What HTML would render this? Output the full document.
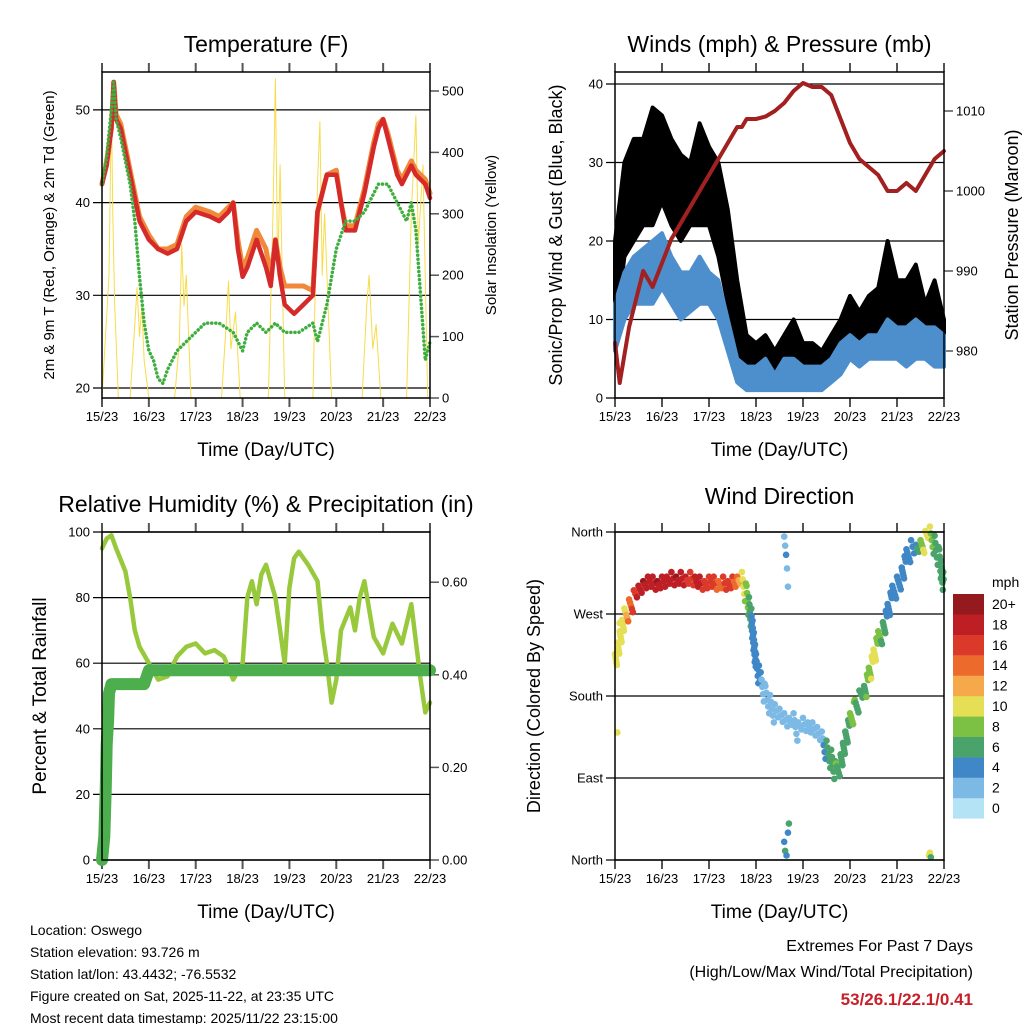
<!DOCTYPE html>
<html><head><meta charset="utf-8">
<style>
body{margin:0;background:#fff;}
svg{display:block;font-family:"Liberation Sans",sans-serif;}
</style></head>
<body>
<svg id="s" width="1024" height="1024" viewBox="0 0 1024 1024"></svg>
<script>
// ---- Temperature data (t in days since 15/23) ----
const tempT=[0,0.1,0.2,0.25,0.3,0.4,0.6,0.8,1.0,1.2,1.4,1.6,1.8,2.0,2.3,2.5,2.7,2.8,2.9,3.0,3.1,3.3,3.5,3.6,3.7,3.8,3.9,4.1,4.3,4.5,4.6,4.8,5.0,5.1,5.2,5.4,5.6,5.8,5.9,6.0,6.1,6.3,6.4,6.6,6.7,6.9,7.0];
const tempRed=[42,44,48,53,49,48,43,38,36,35,34.5,35,38,39,38.5,38,39,40,35,32,33,36,33,31,36,32,29,28,29,30,39,43,43,40,37,37,41,46,48,49,47,43,42,44,43,42,40.5];
const tempOrange=[42,44.5,48,53,49.5,48.5,43.5,38.5,36.5,35,35,35.5,38.5,39.5,39,38.5,39.5,40,36,33,34,37,35,32,36,33,31,31,31,30.5,39,43,43.5,40,37.5,37.5,41.5,46.5,48.5,49,47.5,43.5,42.5,44.5,43.5,42.5,41];
const dewT=[0,0.1,0.2,0.25,0.3,0.4,0.6,0.7,0.8,0.9,1.0,1.1,1.2,1.3,1.4,1.6,1.8,2.0,2.2,2.5,2.8,2.9,3.0,3.1,3.3,3.5,3.7,3.9,4.2,4.5,4.6,4.8,5.0,5.2,5.4,5.6,5.8,5.9,6.1,6.3,6.5,6.6,6.7,6.8,6.9,7.0];
const dewVal=[42,45,50,53,49,47,42,38,32,27,24,23,21,20.5,22,24,25,26,27,27,26,25,24,26,27,26,27,26,26,27,25,29,35,38,38,39,41,42,42,40,38,40,37,30,23,25];
const solarT=[0,0.15,0.2,0.23,0.27,0.35,0.6,0.7,0.75,0.8,0.85,0.9,1.0,1.55,1.65,1.7,1.75,1.8,1.9,2.55,2.65,2.7,2.75,2.85,2.95,3.55,3.65,3.7,3.75,3.8,3.9,4.5,4.6,4.65,4.7,4.75,4.9,5.55,5.65,5.7,5.78,5.85,5.95,6.5,6.6,6.7,6.75,6.85,6.95,7.0];
const solarVal=[0,200,480,300,150,0,0,120,180,100,150,60,0,0,90,250,150,200,0,0,120,190,80,140,0,0,300,520,200,380,0,0,350,450,200,300,0,0,150,200,80,120,0,0,300,460,250,380,0,0];
// ---- Winds ----
const windT=[0,0.2,0.4,0.6,0.8,1.0,1.2,1.4,1.6,1.8,2.0,2.2,2.4,2.6,2.8,3.0,3.2,3.4,3.6,3.8,4.0,4.2,4.4,4.6,4.8,5.0,5.2,5.4,5.6,5.8,6.0,6.2,6.4,6.6,6.8,7.0];
const gustHigh=[20,30,33,33,37,36,33,31,30,35,32,30,24,15,8,7,8,6,8,10,7,7,6,8,10,13,11,13,14,20,15,15,17,12,15,10];
const gustLow=[8,18,20,22,22,25,22,20,22,22,22,18,12,6,3,3,3,2,3,3,2,2,3,4,5,7,6,7,8,8,7,6,8,8,7,6];
const windHigh=[12,16,18,19,20,21,18,16,16,18,16,15,10,5,4,4,5,3,5,5,4,4,4,5,7,8,7,8,8,10,9,9,10,9,9,8];
const windLow=[6,10,12,12,12,14,12,10,11,12,12,10,6,2,1,1,1,1,1,1,1,1,1,2,3,5,4,5,5,5,5,4,5,5,4,4];
const presT=[0,0.1,0.3,0.6,0.8,1.0,1.2,1.5,1.8,2.0,2.1,2.3,2.5,2.6,2.7,2.8,3.0,3.2,3.4,3.6,3.8,4.0,4.2,4.4,4.6,4.8,5.0,5.2,5.4,5.6,5.8,6.0,6.2,6.4,6.6,6.8,7.0];
const presVal=[981,976,983,990,988,991,994,997,1000,1002,1003,1005,1007,1008,1008,1009,1009,1009.3,1010,1011,1012.5,1013.5,1013,1013,1012,1009,1006,1004,1003,1002,1000,1000,1001,1000,1002,1004,1005];
// ---- RH / precip ----
const rhT=[0,0.1,0.2,0.3,0.5,0.6,0.7,0.8,1.0,1.2,1.4,1.6,1.8,2.0,2.2,2.4,2.6,2.8,3.0,3.1,3.2,3.3,3.4,3.5,3.6,3.7,3.8,3.9,4.0,4.1,4.2,4.4,4.6,4.7,4.8,4.9,5.0,5.1,5.3,5.4,5.5,5.6,5.8,6.0,6.2,6.4,6.6,6.8,6.9,7.0];
const rhVal=[95,98,99,95,88,80,70,65,60,55,56,62,65,66,63,64,62,55,60,80,85,78,87,90,85,80,70,60,83,92,94,90,85,70,60,48,55,70,77,70,80,85,68,63,72,66,78,55,45,48];
const prT=[0,0.05,0.08,0.1,0.13,0.15,0.2,0.9,1.0,7.0];
const prVal=[0,0.05,0.15,0.25,0.3,0.36,0.38,0.38,0.41,0.41];
// ---- Wind direction (t step 0.1 day) ----
const dirVal=[215,240,265,275,285,290,295,300,300,295,300,300,305,300,305,300,305,300,300,295,300,300,295,300,295,300,300,305,290,265,215,195,180,170,160,155,150,145,150,140,145,140,140,135,130,120,110,95,105,130,150,165,175,180,200,220,240,250,270,290,300,310,330,340,335,340,350,355,345,330,300];
const dirSpd=[9,9,9,14,16,18,19,18,17,19,18,17,18,19,18,17,16,17,18,16,15,16,14,15,16,15,13,10,8,5,4,3,2,2,2,1,2,2,1,2,1,2,2,1,2,5,6,7,6,6,7,7,6,6,8,10,8,6,4,4,4,4,4,3,4,8,10,9,6,5,5];
const outT=[3.6,3.62,3.64,3.66,3.68,3.6,3.62,3.65,3.68,3.7,6.68,6.7,6.72,0.05,0.1];
const outDir=[355,345,335,320,300,20,10,5,30,40,5,8,3,140,260];
const outSpd=[2,1,3,2,2,4,6,4,3,5,10,9,6,10,10];
const dayLabels=["15/23","16/23","17/23","18/23","19/23","20/23","21/23","22/23"];
const spdColors=["#b3e3f5","#7db9e5","#3f87c6","#4aa36a","#7cc144","#e4df55","#f6a94b","#ec6a2c","#db3a2b","#be1f25","#951a1d"];
const spdLabels=["0","2","4","6","8","10","12","14","16","18","20+"];

const NS="http://www.w3.org/2000/svg";
const S=document.getElementById('s');
function el(tag,attrs,parent){const e=document.createElementNS(NS,tag);for(const k in attrs)e.setAttribute(k,attrs[k]);(parent||S).appendChild(e);return e;}
function txt(x,y,s,size,anchor,parent,extra){const e=el('text',Object.assign({x:x,y:y,'font-size':size,'text-anchor':anchor||'middle',fill:'#000'},extra||{}),parent);e.textContent=s;return e;}

function panel(name,x0,y0,x1,y1,title,titleY){
  const g=el('g',{});
  
  
  const tt=txt((x0+x1)/2,titleY,title,23,'middle',g);
  
  
  const w=(x1-x0)/7;
  for(let d=0;d<=7;d++){
    const x=x0+d*w;
    el('line',{x1:x,y1:y0-9,x2:x,y2:y0,stroke:'#555','stroke-width':2},g);
    el('line',{x1:x,y1:y1,x2:x,y2:y1+9,stroke:'#555','stroke-width':2},g);
    const l=txt(x,y1+23,dayLabels[d],13,'middle',g);
    
    
  }
  const xl=txt((x0+x1)/2,y1+58,'Time (Day/UTC)',19,'middle',g);
  
  
  return {g:g,x:t=>x0+t*w,x0,x1,y0,y1};
}
function frame(p){el('rect',{x:p.x0,y:p.y0,width:p.x1-p.x0,height:p.y1-p.y0,fill:'none',stroke:'#000','stroke-width':1.5},p.g);}
function yGrid(p,vals,fy,labels,grid){
  vals.forEach((v,i)=>{const y=fy(v);
    if(grid)el('line',{x1:p.x0-9,y1:y,x2:p.x1,y2:y,stroke:'#000','stroke-width':1.2},p.g);
    else el('line',{x1:p.x0-9,y1:y,x2:p.x0,y2:y,stroke:'#555','stroke-width':1.5},p.g);
    const l=txt(p.x0-12,y+4.5,labels[i],13,'end',p.g);
    
    
  });
}
function yRight(p,vals,fy,labels){
  vals.forEach((v,i)=>{const y=fy(v);
    el('line',{x1:p.x1,y1:y,x2:p.x1+9,y2:y,stroke:'#555','stroke-width':1.5},p.g);
    const l=txt(p.x1+12,y+4.5,labels[i],13,'start',p.g);
    
    
  });
}
function poly(p,ts,vs,fy,attrs,name){
  const pts=ts.map((t,i)=>p.x(t).toFixed(1)+','+fy(vs[i]).toFixed(1)).join(' ');
  const e=el('polyline',Object.assign({points:pts,fill:'none','stroke-linejoin':'round','stroke-linecap':'round'},attrs),p.g);
  
  
  return e;
}
function vtitle(x,y,s,size,g,name){const e=txt(x,y,s,size,'middle',g,{transform:`rotate(-90 ${x} ${y})`});}

// ===== Temperature =====
let P=panel('temperature-panel',102,72,430,398,'Temperature (F)',52);
let fy=v=>388-(v-20)*9.27, fs=v=>398-v*0.614;
yGrid(P,[20,30,40,50],fy,['20','30','40','50'],true);
yRight(P,[0,100,200,300,400,500],fs,['0','100','200','300','400','500']);
poly(P,solarT,solarVal,fs,{stroke:'#f7dc4a','stroke-width':1},'solar-insolation-line');
poly(P,tempT,tempOrange,fy,{stroke:'#f08a3a','stroke-width':5},'temp-9m-line');
poly(P,tempT,tempRed,fy,{stroke:'#d62a2a','stroke-width':4.5},'temp-2m-line');
poly(P,dewT,dewVal,fy,{stroke:'#3fae3f','stroke-width':3.5,'stroke-dasharray':'0.1,4'},'dewpoint-line');
frame(P);
vtitle(54,235,'2m & 9m T (Red, Orange) & 2m Td (Green)',15,P.g,'y-axis-title');
vtitle(496,235,'Solar Insolation (Yellow)',15,P.g,'y2-axis-title');

// ===== Winds =====
P=panel('winds-panel',615,72,944,398,'Winds (mph) & Pressure (mb)',52);
fy=v=>398-v*7.85; let fp=v=>351-(v-980)*8;
yGrid(P,[0,10,20,30,40],fy,['0','10','20','30','40'],true);
yRight(P,[980,990,1000,1010],fp,['980','990','1000','1010']);
function band(p,ts,hi,lo,f,col,name){
  const pts=ts.map((t,i)=>p.x(t).toFixed(1)+','+f(hi[i]).toFixed(1)).concat(ts.slice().reverse().map((t,j)=>{const i=ts.length-1-j;return p.x(t).toFixed(1)+','+f(lo[i]).toFixed(1);})).join(' ');
  const e=el('polygon',{points:pts,fill:col,stroke:col,'stroke-width':4,'stroke-linejoin':'round'},p.g);
  
  
}
band(P,windT,gustHigh,gustLow,fy,'#000','gust-band');
band(P,windT,windHigh,windLow,fy,'#4d8fcc','wind-band');
poly(P,presT,presVal,fp,{stroke:'#a32020','stroke-width':4},'pressure-line');
frame(P);
vtitle(562,235,'Sonic/Prop Wind & Gust (Blue, Black)',18,P.g,'y-axis-title');
vtitle(1018,235,'Station Pressure (Maroon)',18,P.g,'y2-axis-title');

// ===== RH =====
P=panel('humidity-panel',102,532,430,860,'Relative Humidity (%) & Precipitation (in)',512);
fy=v=>860-v*3.28; let fr=v=>860-v*463;
yGrid(P,[0,20,40,60,80,100],fy,['0','20','40','60','80','100'],true);
yRight(P,[0,0.2,0.4,0.6],fr,['0.00','0.20','0.40','0.60']);
poly(P,rhT,rhVal,fy,{stroke:'#98c93c','stroke-width':4.5},'humidity-line');
poly(P,prT,prVal,fr,{stroke:'#4cae4c','stroke-width':12},'precip-line');
frame(P);
vtitle(46,696,'Percent & Total Rainfall',19,P.g,'y-axis-title');

// ===== Wind direction =====
P=panel('wind-direction-panel',615,532,944,860,'Wind Direction',504);
fy=v=>860-v*328/360;
yGrid(P,[0,90,180,270,360],fy,['North','East','South','West','North'],true);
function spdCol(s){return spdColors[Math.min(10,Math.max(0,Math.round(s/2)))];}
const dg=el('g',{},P.g);


for(let i=0;i<dirVal.length-1;i++){
  const xa=P.x(i*0.1),xb=P.x((i+1)*0.1),ya=fy(dirVal[i]),yb=fy(dirVal[i+1]);
  const n=Math.max(3,Math.ceil(Math.hypot(xb-xa,yb-ya)/2.5));
  for(let k=0;k<n;k++){const f=k/n;const s=dirSpd[i]+(dirSpd[i+1]-dirSpd[i])*f;
    el('circle',{cx:xa+(xb-xa)*f,cy:ya+(yb-ya)*f+((k%5)-2)*5,r:3.3,fill:spdCol(s)},dg);
  }
}
outT.forEach((t,i)=>{el('circle',{cx:P.x(t),cy:fy(outDir[i]),r:3.3,fill:spdCol(outSpd[i])},dg);});
frame(P);
vtitle(540,696,'Direction (Colored By Speed)',18,P.g,'y-axis-title');
// colorbar
const lg=el('g',{});


txt(992,587,'mph',14,'start',lg);
for(let i=0;i<11;i++){const y=594+(10-i)*20.4;
  const r=el('rect',{x:953,y:y,width:31,height:20.6,fill:spdColors[i]},lg);
  
  
  txt(992,y+15,spdLabels[i],14,'start',lg);
}
// footer
const info=["Location: Oswego","Station elevation: 93.726 m","Station lat/lon: 43.4432; -76.5532","Figure created on Sat, 2025-11-22, at 23:35 UTC","Most recent data timestamp: 2025/11/22 23:15:00"];
info.forEach((s,i)=>{const t=txt(30,935+i*22,s,14,'start');});
let e=txt(973,951,'Extremes For Past 7 Days',16,'end');
e=txt(973,977,'(High/Low/Max Wind/Total Precipitation)',16,'end');
e=txt(973,1005,'53/26.1/22.1/0.41',17,'end',null,{fill:'#c8202a','font-weight':'bold'});
</script>
</body></html>
